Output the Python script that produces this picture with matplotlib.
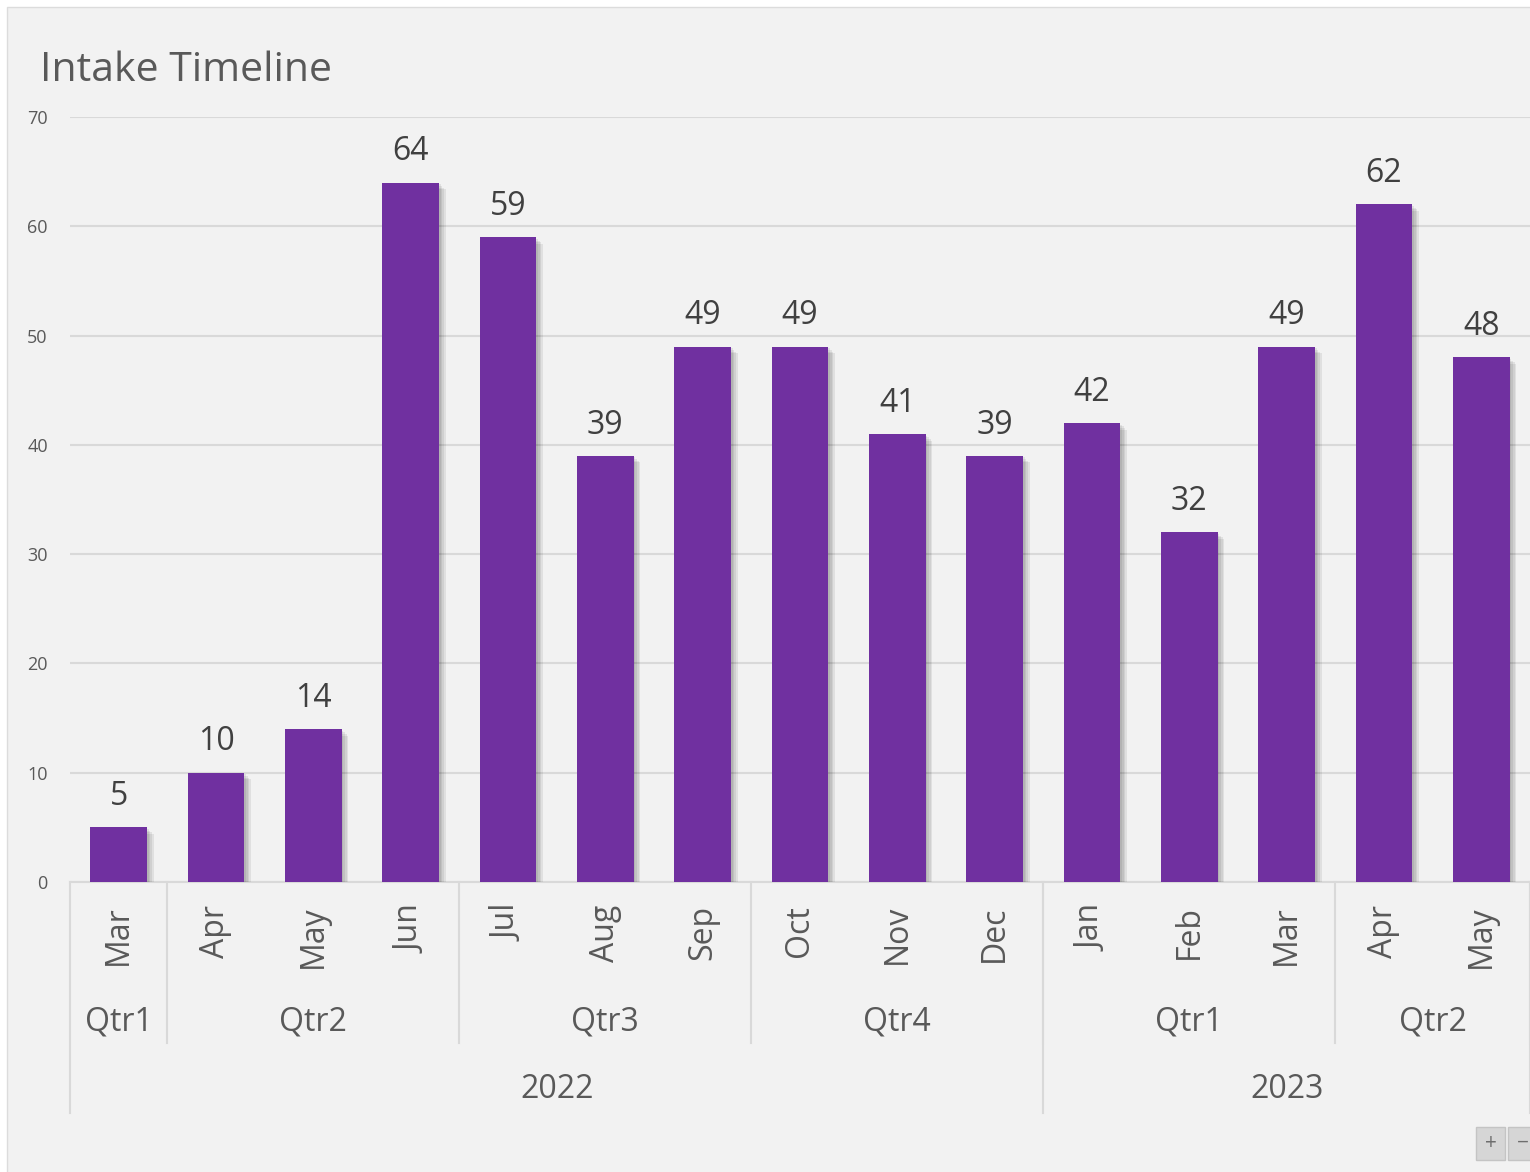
import matplotlib
matplotlib.use("Agg")
import matplotlib.pyplot as plt
import matplotlib.transforms as mtransforms
from matplotlib import patheffects as pe
from matplotlib.patches import Rectangle

# Monthly intake counts
months = ["Mar", "Apr", "May", "Jun", "Jul", "Aug", "Sep", "Oct",
          "Nov", "Dec", "Jan", "Feb", "Mar", "Apr", "May"]
intake = [5, 10, 14, 64, 59, 39, 49, 49, 41, 39, 42, 32, 49, 62, 48]

# Grouping levels of the category axis
quarters = ["Qtr1", "Qtr2", "Qtr3", "Qtr4", "Qtr1", "Qtr2"]
quarter_sizes = [1, 3, 3, 3, 3, 2]
years = ["2022", "2023"]
year_sizes = [10, 5]

y_ticks = [0, 10, 20, 30, 40, 50, 60, 70]

plt.rcParams['font.family'] = ['Open Sans', 'DejaVu Sans']

W, H = 1530, 1172
fig = plt.figure(figsize=(W / 100, H / 100), dpi=100, facecolor='white')

# chart panel
fig.add_artist(Rectangle((7 / W, -0.01), 1 - 6 / W, 1 - 7 / H + 0.01,
                         transform=fig.transFigure, facecolor='#f2f2f2',
                         edgecolor='#dcdcdc', lw=1, zorder=-10))

ax = fig.add_axes([70 / W, 290 / H, 1 - 70 / W, 765 / H])
ax.set_facecolor('none')
ax.set_autoscale_on(False)
ax.set_xlim(-0.5, len(months) - 0.5)
ax.set_ylim(0, 70)

x = list(range(len(months)))
bars = ax.bar(x, intake, width=0.58, color='#7030A0', zorder=3)
shadow = [pe.SimplePatchShadow(offset=(k, -k), shadow_rgbFace='black', alpha=0.07)
          for k in (1.2, 2.4, 3.6, 4.8)]
for b in bars:
    b.set_path_effects(shadow + [pe.Normal()])

for xi, v in zip(x, intake):
    ax.annotate(str(v), (xi, v), xytext=(0, 16), textcoords='offset points',
                ha='center', va='baseline', fontsize=23, color='#404040')

ax.set_yticks(y_ticks)
ax.yaxis.grid(True, color='#d9d9d9', lw=1.5)
ax.set_axisbelow(True)
ax.set_xticks([])
for s in ('top', 'right', 'left'):
    ax.spines[s].set_visible(False)
ax.spines['bottom'].set_color('#d9d9d9')
ax.spines['bottom'].set_linewidth(1.5)
ax.tick_params(axis='y', length=0, labelsize=13, labelcolor='#595959', pad=16)

trans = mtransforms.blended_transform_factory(ax.transData, fig.transFigure)
y_axis = 290 / H
y_month_top = 1 - 905 / H
y_quarter = 1 - 1022 / H
y_year = 1 - 1090 / H
y_qline = 1 - 1043 / H
y_yline = 1 - 1113 / H
label_kw = dict(transform=trans, fontsize=23, color='#595959', clip_on=False)

for xi, m in zip(x, months):
    ax.text(xi, y_month_top, m, rotation=90, ha='center', va='top', **label_kw)

line_kw = dict(transform=trans, color='#d9d9d9', lw=1.5, clip_on=False)

start = -0.5
for q, n in zip(quarters, quarter_sizes):
    ax.text(start + n / 2, y_quarter, q, ha='center', va='center', **label_kw)
    start += n
    ax.plot([start, start], [y_axis, y_qline], **line_kw)

start = -0.5
ax.plot([start, start], [y_axis, y_yline], **line_kw)
for yr, n in zip(years, year_sizes):
    ax.text(start + n / 2, y_year, yr, ha='center', va='center', **label_kw)
    start += n
    ax.plot([start, start], [y_axis, y_yline], **line_kw)

fig.text(40 / W, 1 - 81 / H, "Intake Timeline", fontsize=29.5, color='#595959',
         ha='left', va='baseline')

# zoom buttons
for x0, sym in ((1476, "+"), (1508, "\u2212")):
    fig.add_artist(Rectangle((x0 / W, 12 / H), 29 / W, 33 / H,
                             transform=fig.transFigure, facecolor='#d6d6d6',
                             edgecolor='#c4c4c4', lw=1))
    fig.text((x0 + 14.5) / W, 28.5 / H, sym, fontsize=15, color='#6e6e6e',
             ha='center', va='center')

fig.savefig("out.png", dpi=100, facecolor=fig.get_facecolor())
